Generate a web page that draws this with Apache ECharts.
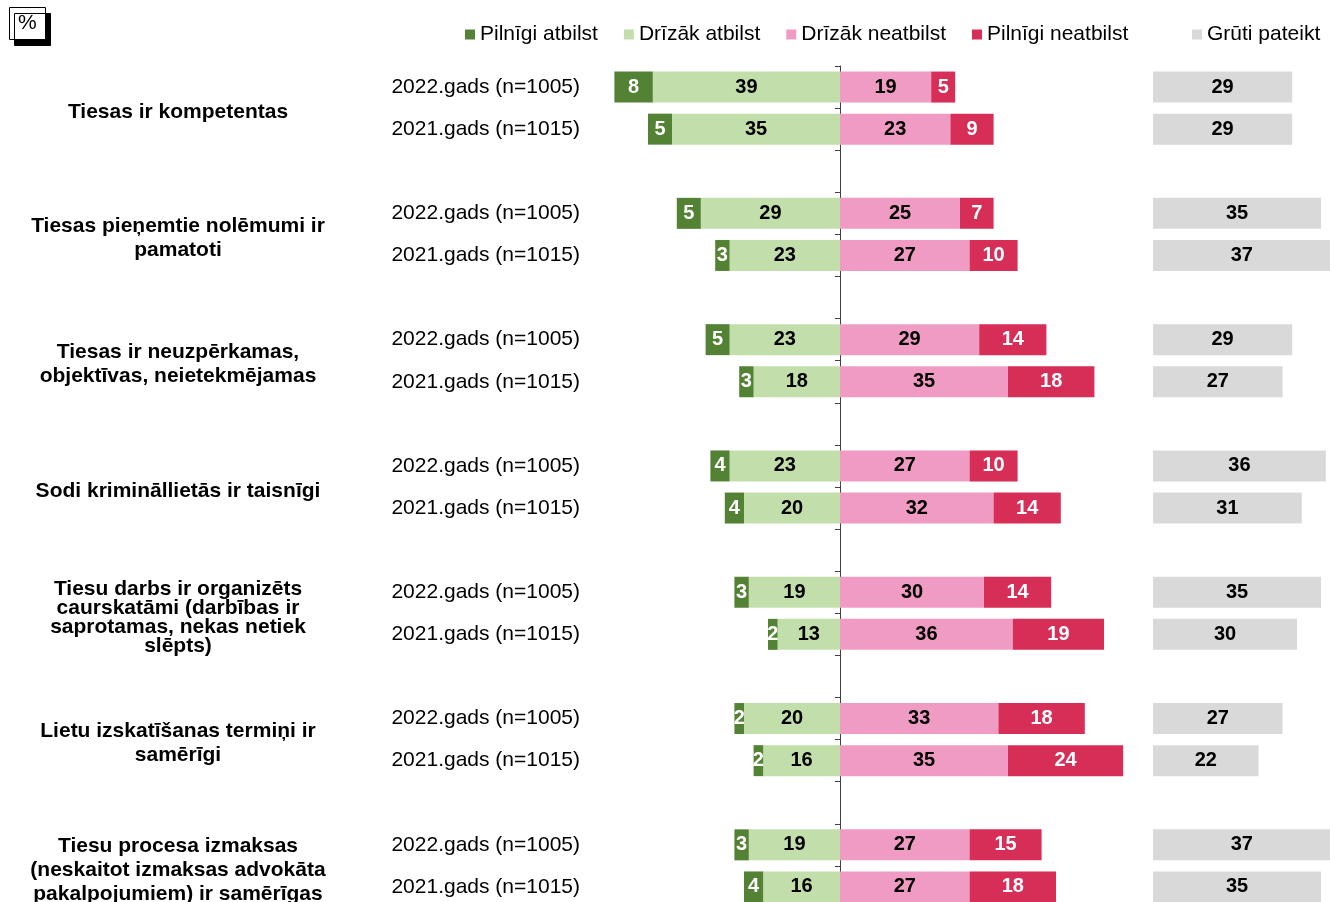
<!DOCTYPE html>
<html lang="lv">
<head>
    <meta charset="UTF-8">
    <title>Tiesas</title>
    <style>
        html, body { margin: 0; padding: 0; background: #fff; }
    </style>
</head>
<body>
<div id="main" style="width:1330px;height:902px;"></div>
<script src="https://cdn.jsdelivr.net/npm/echarts@6/dist/echarts.min.js"></script>
<script>
    var statements = [
        'Tiesas ir kompetentas',
        'Tiesas pieņemtie nolēmumi ir\npamatoti',
        'Tiesas ir neuzpērkamas,\nobjektīvas, neietekmējamas',
        'Sodi krimināllietās ir taisnīgi',
        'Tiesu darbs ir organizēts\ncaurskatāmi (darbības ir\nsaprotamas, nekas netiek\nslēpts)',
        'Lietu izskatīšanas termiņi ir\nsamērīgi',
        'Tiesu procesa izmaksas\n(neskaitot izmaksas advokāta\npakalpojumiem) ir samērīgas'
    ];
    var years = ['2022.gads (n=1005)', '2021.gads (n=1015)'];
    var seriesNames = ['Pilnīgi atbilst', 'Drīzāk atbilst', 'Drīzāk neatbilst', 'Pilnīgi neatbilst', 'Grūti pateikt'];

    // 2022
    var pilnigiAtbilst22 = [8, 5, 5, 4, 3, 2, 3];
    var drizakAtbilst22 = [39, 29, 23, 23, 19, 20, 19];
    var drizakNeatbilst22 = [19, 25, 29, 27, 30, 33, 27];
    var pilnigiNeatbilst22 = [5, 7, 14, 10, 14, 18, 15];
    var gruti22 = [29, 35, 29, 36, 35, 27, 37];
    // 2021
    var pilnigiAtbilst21 = [5, 3, 3, 4, 2, 2, 4];
    var drizakAtbilst21 = [35, 23, 18, 20, 13, 16, 16];
    var drizakNeatbilst21 = [23, 27, 35, 32, 36, 35, 27];
    var pilnigiNeatbilst21 = [9, 10, 18, 14, 19, 24, 18];
    var gruti21 = [29, 37, 27, 31, 30, 22, 35];

    var colors = ['#548235', '#c2dfab', '#f09bc3', '#d62e57', '#d9d9d9'];
    var font = 'Liberation Sans, Arial, sans-serif';

    // rindas: 2022, 2021, tukša starp grupām
    var cats = [];
    statements.forEach(function (s, i) {
        cats.push(i + '_0', i + '_1', i + '_gap');
    });
    function rows(a22, a21, sign) {
        var out = [];
        for (var i = 0; i < a22.length; i++) {
            out.push(sign * a22[i], sign * a21[i], '-');
        }
        return out;
    }

    var plotTop = 66, band = 42.1, unit = 4.8;
    var plotH = cats.length * band;
    var plotLeft = 840 - 60 * unit;

    function lbl(color) {
        return {
            show: true,
            position: 'inside',
            color: color,
            fontFamily: font,
            fontWeight: 'bold',
            fontSize: 20,
            formatter: function (p) {
                return (p.value === '-' || p.value == null) ? '' : Math.abs(p.value);
            }
        };
    }

    var myChart = echarts.init(document.getElementById('main'));
    var option = {
        backgroundColor: '#fff',
        animation: false,
        title: {
            text: '%',
            left: 9,
            top: 7,
            padding: [5, 9],
            borderWidth: 1,
            borderColor: '#000',
            backgroundColor: '#fff',
            shadowColor: '#000',
            shadowOffsetX: 5,
            shadowOffsetY: 6,
            shadowBlur: 0,
            textStyle: { fontFamily: font, fontSize: 21, fontWeight: 'normal', color: '#000', lineHeight: 23 }
        },
        legend: [{
            data: seriesNames.slice(0, 4),
            left: 465,
            top: 24,
            padding: 0,
            icon: 'rect',
            itemWidth: 10,
            itemHeight: 10,
            itemGap: 26,
            textStyle: { fontFamily: font, fontSize: 21, color: '#000' }
        }, {
            data: [seriesNames[4]],
            left: 1192,
            top: 24,
            padding: 0,
            icon: 'rect',
            itemWidth: 10,
            itemHeight: 10,
            textStyle: { fontFamily: font, fontSize: 21, color: '#000' }
        }],
        grid: [
            { left: plotLeft, width: 120 * unit, top: plotTop, height: plotH, outerBoundsMode: 'none' },
            { left: 1153, width: 40 * unit, top: plotTop, height: plotH, outerBoundsMode: 'none' },
            { left: 360, width: 10, top: plotTop - band / 2 + 4, height: plotH, outerBoundsMode: 'none' }
        ],
        xAxis: [
            { type: 'value', gridIndex: 0, min: -60, max: 60, show: false },
            { type: 'value', gridIndex: 1, min: 0, max: 40, show: false },
            { type: 'value', gridIndex: 2, min: 0, max: 1, show: false }
        ],
        yAxis: [{
            type: 'category',
            gridIndex: 0,
            data: cats,
            inverse: true,
            axisLine: { show: true, onZero: true, lineStyle: { color: '#404040', width: 1 } },
            axisTick: { show: true, length: 5, lineStyle: { color: '#404040' } },
            splitLine: { show: false },
            axisLabel: {
                margin: plotLeft - 580,
                color: '#000',
                fontFamily: font,
                fontSize: 21,
                formatter: function (v, idx) {
                    var k = idx % 3;
                    return k < 2 ? years[k] : '';
                }
            }
        }, {
            type: 'category',
            gridIndex: 1,
            data: cats,
            inverse: true,
            show: false
        }, {
            type: 'category',
            gridIndex: 2,
            data: statements,
            inverse: true,
            axisLine: { show: false },
            axisTick: { show: false },
            axisLabel: {
                margin: 182,
                align: 'center',
                color: '#000',
                fontFamily: font,
                fontWeight: 'bold',
                fontSize: 21,
                lineHeight: 24,
                formatter: function (v) {
                    var lines = v.split('\n');
                    if (lines.length > 3) {
                        return lines.map(function (l) { return '{t|' + l + '}'; }).join('\n');
                    }
                    return v;
                },
                rich: {
                    t: { fontFamily: font, fontWeight: 'bold', fontSize: 21, lineHeight: 19, color: '#000' }
                }
            }
        }],
        series: [{
            name: seriesNames[1],
            type: 'bar',
            stack: 'a',
            barWidth: 31,
            itemStyle: { color: colors[1] },
            label: lbl('#000'),
            data: rows(drizakAtbilst22, drizakAtbilst21, -1)
        }, {
            name: seriesNames[0],
            type: 'bar',
            stack: 'a',
            barWidth: 31,
            itemStyle: { color: colors[0] },
            label: lbl('#fff'),
            data: rows(pilnigiAtbilst22, pilnigiAtbilst21, -1)
        }, {
            name: seriesNames[2],
            type: 'bar',
            stack: 'a',
            barWidth: 31,
            itemStyle: { color: colors[2] },
            label: lbl('#000'),
            data: rows(drizakNeatbilst22, drizakNeatbilst21, 1)
        }, {
            name: seriesNames[3],
            type: 'bar',
            stack: 'a',
            barWidth: 31,
            itemStyle: { color: colors[3] },
            label: lbl('#fff'),
            data: rows(pilnigiNeatbilst22, pilnigiNeatbilst21, 1)
        }, {
            name: seriesNames[4],
            type: 'bar',
            xAxisIndex: 1,
            yAxisIndex: 1,
            barWidth: 31,
            itemStyle: { color: colors[4] },
            label: lbl('#000'),
            data: rows(gruti22, gruti21, 1)
        }]
    };
    myChart.setOption(option);
</script>
</body>
</html>
